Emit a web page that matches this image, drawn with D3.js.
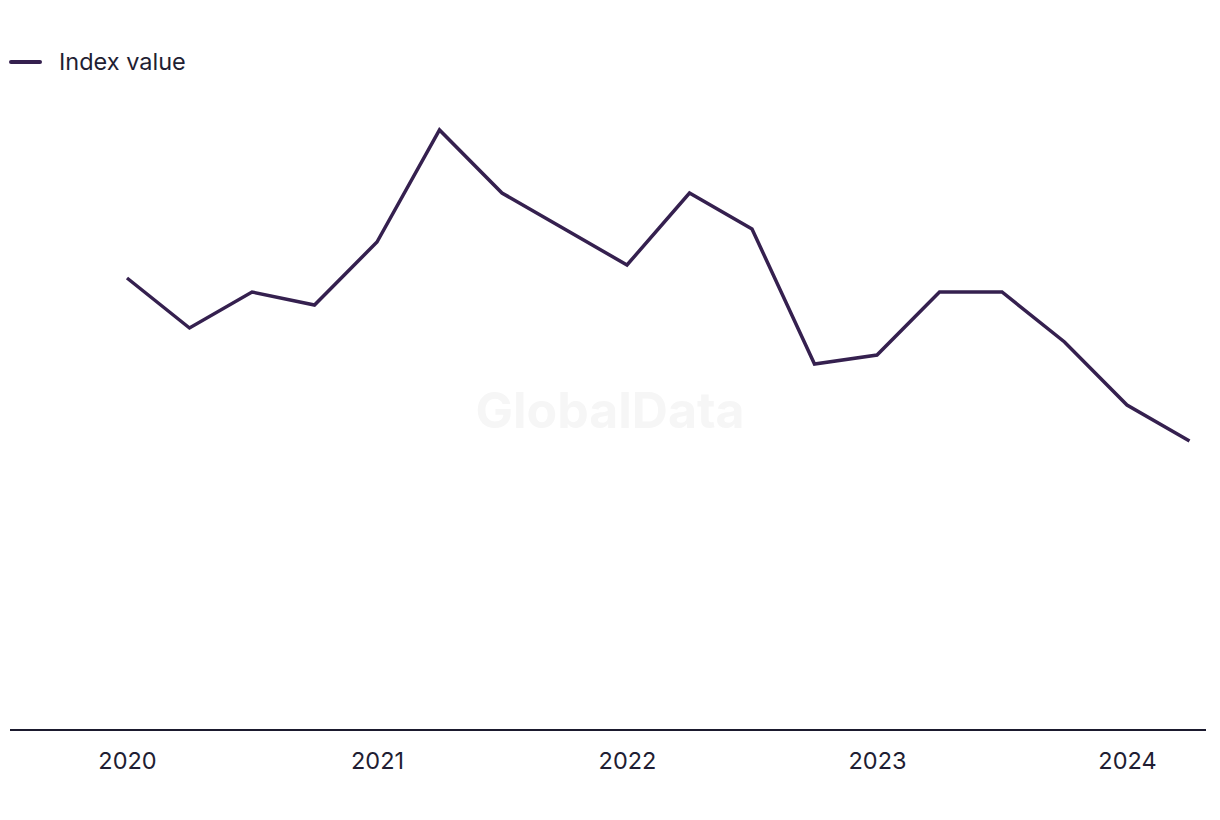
<!DOCTYPE html>
<html>
<head>
<meta charset="utf-8">
<script src="https://cdn.jsdelivr.net/npm/d3@7"></script>
<style>
  html, body { margin: 0; padding: 0; background: #ffffff; }
  svg { display: block; }
  text { font-family: Inter, "Noto Sans", sans-serif; }
</style>
</head>
<body>
<svg id="chart" width="1220" height="820"></svg>
<script>
// Quarterly index, 2020 Q1 – 2024 Q2
const quarters = ["2020 Q1","2020 Q2","2020 Q3","2020 Q4","2021 Q1","2021 Q2","2021 Q3","2021 Q4",
                  "2022 Q1","2022 Q2","2022 Q3","2022 Q4","2023 Q1","2023 Q2","2023 Q3","2023 Q4",
                  "2024 Q1","2024 Q2"];
const indexValues = [90.4, 80.4, 87.6, 85.0, 97.6, 120.0, 107.4, 100.2,
                     93.0, 107.4, 100.2, 73.2, 75.0, 87.6, 87.6, 77.6, 65.0, 57.8];
const yearTicks = ["2020","2021","2022","2023","2024"];
const seriesName = "Index value";

const svg = d3.select("#chart");
const lineColor = "#35204f";
const axisColor = "#1b1a2e";

const x = d3.scaleLinear().domain([0, quarters.length - 1]).range([127, 1189.5]);
const y = d3.scaleLinear().domain([0, 120]).range([730, 130]);

// watermark
svg.append("text")
  .attr("x", 610).attr("y", 428)
  .attr("text-anchor", "middle")
  .attr("font-size", 50).attr("font-weight", 700)
  .attr("fill", "#f6f6f6")
  .text("GlobalData");

// baseline axis
svg.append("line")
  .attr("x1", 10).attr("x2", 1206)
  .attr("y1", y(0)).attr("y2", y(0))
  .attr("stroke", axisColor).attr("stroke-width", 2);

// year labels
const tickIdx = yearTicks.map(t => quarters.indexOf(t + " Q1"));
const xAxis = d3.axisBottom(x)
  .tickValues(tickIdx)
  .tickFormat((d, i) => yearTicks[i])
  .tickSize(0).tickPadding(22);
const gx = svg.append("g").attr("transform", `translate(0,${y(0)})`).call(xAxis);
gx.select(".domain").remove();
gx.selectAll("text")
  .attr("font-family", "Inter, 'Noto Sans', sans-serif")
  .attr("font-size", 23.5).attr("fill", "#1f1e33");

// line
const line = d3.line().x((d, i) => x(i)).y(d => y(d));
svg.append("path")
  .datum(indexValues)
  .attr("d", line)
  .attr("fill", "none")
  .attr("stroke", lineColor)
  .attr("stroke-width", 3.5)
  .attr("stroke-linejoin", "miter");

// legend
const lg = svg.append("g");
lg.append("line")
  .attr("x1", 11).attr("x2", 40).attr("y1", 62).attr("y2", 62)
  .attr("stroke", lineColor).attr("stroke-width", 4).attr("stroke-linecap", "round");
lg.append("text")
  .attr("x", 59).attr("y", 62).attr("dy", "0.35em")
  .attr("font-size", 23.5).attr("fill", "#1f1e33")
  .text(seriesName);
</script>
</body>
</html>
